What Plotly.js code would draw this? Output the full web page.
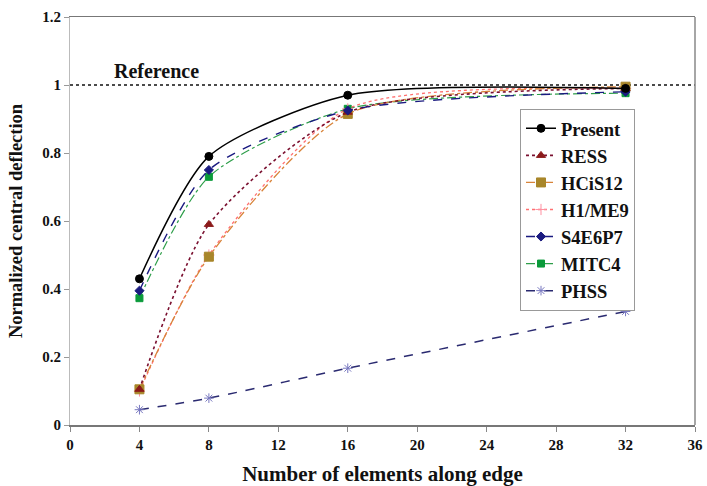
<!DOCTYPE html>
<html>
<head>
<meta charset="utf-8">
<script src="https://cdn.plot.ly/plotly-3.0.1.min.js"></script>
<style>html,body{margin:0;padding:0;background:#fff;}#chart{position:relative;width:707px;height:486px;}</style>
</head>
<body>
<div id="chart"></div>
<script>
const elements = [4, 8, 16, 32];
const present = [0.43, 0.79, 0.97, 0.99];
const ress = [0.105, 0.59, 0.92, 0.99];
const hcis12 = [0.105, 0.495, 0.915, 0.995];
const h1me9 = [0.10, 0.50, 0.93, 0.99];
const s4e6p7 = [0.395, 0.75, 0.925, 0.98];
const mitc4 = [0.373, 0.73, 0.93, 0.976];
const phss = [0.045, 0.079, 0.167, 0.334];
const refX = [0, 36];
const refY = [1, 1];
const xTicks = [0, 4, 8, 12, 16, 20, 24, 28, 32, 36];
const yTicks = [0, 0.2, 0.4, 0.6, 0.8, 1, 1.2];

function tr(name, rank, y, lineColor, dash, width, symbol, mColor, mSize) {
  return {
    x: elements, y: y, name: name, legendrank: rank, type: 'scatter', mode: 'lines+markers',
    line: {color: lineColor, dash: dash, width: width, shape: 'spline', smoothing: 0.7},
    marker: {symbol: symbol, color: mColor, size: mSize, line: {color: mColor, width: 1}}
  };
}

const data = [
  {x: refX, y: refY, type: 'scatter', mode: 'lines', showlegend: false, hoverinfo: 'skip',
   line: {color: '#111', dash: 'dot', width: 1.5}},
  tr('PHSS', 7, phss, '#2a2a70', 'dash', 1.5, 'asterisk-open', '#7878c0', 8),
  tr('MITC4', 6, mitc4, '#2e9e4a', 'dashdot', 1.2, 'square', '#0a9a3a', 7),
  tr('H1/ME9', 4, h1me9, '#ff7070', 'dot', 1.3, 'cross-thin-open', '#ff8fa0', 8),
  tr('HCiS12', 3, hcis12, '#d8843a', 'dashdot', 1.3, 'square', '#a8862a', 9),
  tr('RESS', 2, ress, '#7a1030', 'dot', 1.6, 'triangle-up', '#8b1a1a', 8),
  tr('S4E6P7', 5, s4e6p7, '#1a1a80', 'dash', 1.4, 'diamond', '#1a1a80', 7),
  tr('Present', 1, present, '#000', 'solid', 1.5, 'circle', '#000', 8)
];

function bold(s) { return {family: 'Liberation Serif', size: s, color: '#111', weight: 'bold'}; }

const layout = {
  width: 707, height: 486,
  margin: {l: 70, r: 12, t: 17, b: 61},
  paper_bgcolor: '#fff', plot_bgcolor: '#fff',
  showlegend: true,
  legend: {
    x: 0.72, y: 0.775, xanchor: 'left', yanchor: 'top',
    traceorder: 'normal',
    bgcolor: '#fff', bordercolor: '#999', borderwidth: 1,
    font: bold(18.5),
    itemwidth: 30
  },
  xaxis: {
    range: [0, 36], tickvals: xTicks, ticktext: xTicks.map(String),
    showgrid: false, zeroline: false,
    showline: true, linecolor: '#777', linewidth: 1.5, mirror: true,
    ticks: 'outside', ticklen: 5, tickcolor: '#888',
    tickfont: bold(15),
    title: {text: 'Number of elements along edge', font: bold(21), standoff: 15}
  },
  yaxis: {
    range: [0, 1.2], tickvals: yTicks, ticktext: ['0', '0.2', '0.4', '0.6', '0.8', '1', '1.2'],
    showgrid: false, zeroline: false,
    showline: true, linecolor: '#bbb', linewidth: 1, mirror: false,
    ticks: 'outside', ticklen: 5, tickcolor: '#999',
    tickfont: bold(15),
    title: {text: 'Normalized central deflection', font: bold(18.5), standoff: 14}
  },
  shapes: [
    {type: 'line', xref: 'paper', yref: 'paper', x0: 1, x1: 1, y0: 0, y1: 1, line: {color: '#888', width: 1.5}}
  ],
  annotations: [
    {x: 5, y: 1.04, xref: 'x', yref: 'y', text: 'Reference', showarrow: false, font: bold(20)}
  ]
};

Plotly.newPlot('chart', data, layout, {displayModeBar: false, staticPlot: true});
</script>
</body>
</html>
